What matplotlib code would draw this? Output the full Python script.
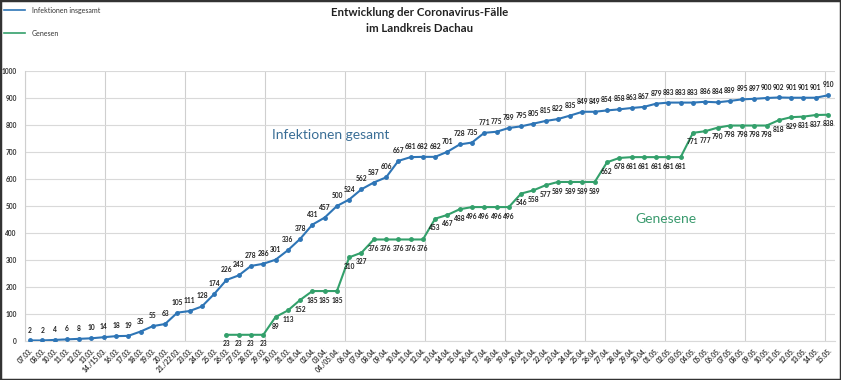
import numpy as np
import matplotlib.pyplot as plt
from matplotlib.patches import Rectangle

plt.rcParams['font.family'] = ['Lato', 'DejaVu Sans']

dates = ['07.03.', '08.03.', '10.03.', '11.03.', '12.03.', '13.03.', '14./15.03.', '16.03.',
         '17.03.', '18.03.', '19.03.', '20.03.', '21./22.03.', '23.03.', '24.03.', '25.03.',
         '26.03.', '27.03.', '28.03.', '29.03.', '30.03.', '31.03.', '01.04.', '02.04.',
         '03.04.', '04./05.04.', '06.04.', '07.04.', '08.04.', '09.04.', '10.04.', '11.04.',
         '12.04.', '13.04.', '14.04.', '15.04.', '16.04.', '17.04.', '18.04.', '19.04.',
         '20.04.', '21.04.', '22.04.', '23.04.', '24.04.', '25.04.', '26.04.', '27.04.',
         '28.04.', '29.04.', '30.04.', '01.05.', '02.05.', '03.05.', '04.05.', '05.05.',
         '06.05.', '07.05.', '08.05.', '09.05.', '10.05.', '11.05.', '12.05.', '13.05.',
         '14.05.', '15.05.']

infektionen = [2, 2, 4, 6, 8, 10, 14, 18, 19, 35, 55, 63, 105, 111, 128, 174, 226, 243, 278, 286,
               301, 336, 378, 431, 457, 500, 524, 562, 587, 606, 667, 681, 682, 682, 701, 728, 735,
               771, 775, 789, 795, 805, 815, 822, 835, 849, 849, 854, 858, 863, 867, 879, 883, 883,
               883, 886, 884, 889, 895, 897, 900, 902, 901, 901, 901, 910]

# Genesen starts on 26.03.
genesen_start = 16
genesen = [23, 23, 23, 23, 89, 113, 152, 185, 185, 185, 310, 327, 376, 376, 376, 376, 376,
           453, 467, 488, 496, 496, 496, 496, 546, 558, 577, 589, 589, 589, 589, 662, 678,
           681, 681, 681, 681, 681, 771, 777, 790, 798, 798, 798, 798, 818, 829, 831, 837, 838]

blue = '#2E75B6'
green = '#33A06B'

fig = plt.figure(figsize=(8.41, 3.8), dpi=100)
ax = fig.add_axes([25 / 841, 39 / 380, 810 / 841, 270 / 380])

x = np.arange(len(dates))
xg = np.arange(genesen_start, genesen_start + len(genesen))

ax.plot(x, infektionen, color=blue, lw=1.5, marker='o', ms=2.5, zorder=3)
ax.plot(xg, genesen, color=green, lw=1.5, marker='o', ms=2.5, zorder=3)

for xi, v in zip(x, infektionen):
    ax.annotate(str(v), (xi, v), xytext=(0, 5), textcoords='offset points',
                ha='center', va='bottom', fontsize=4.8, fontweight='bold', color='#222222')
for xi, v in zip(xg, genesen):
    ax.annotate(str(v), (xi, v), xytext=(0, -4), textcoords='offset points',
                ha='center', va='top', fontsize=4.8, fontweight='bold', color='#222222')

xmin, xmax = -0.41, 65.57
ax.set_xlim(xmin, xmax)
ax.set_ylim(0, 1000)
ax.set_yticks(range(0, 1001, 100))
ax.grid(axis='y', color='#d9d9d9', lw=0.8)
for k in range(0, 11):
    ax.axvline(xmin + k * 80 / 810 * (xmax - xmin), color='#cfcfcf', lw=0.8, zorder=0)

ax.set_xticks(x)
ax.set_xticklabels(dates, rotation=45, ha='right', rotation_mode='anchor',
                   fontsize=4.8, fontweight='bold', color='#333333')
ax.tick_params(axis='x', length=0, pad=4)
ax.tick_params(axis='y', length=0, pad=6, labelsize=4.8, labelcolor='#333333')
for lab in ax.get_yticklabels():
    lab.set_fontweight('bold')
for s in ['top', 'right']:
    ax.spines[s].set_visible(False)
ax.spines['left'].set_color('#cfcfcf')
ax.spines['bottom'].set_color('#d9d9d9')

ax.text(19.7, 762, 'Infektionen gesamt', color='#3A6E96', fontsize=10, ha='left', va='center')
ax.text(49.3, 452, 'Genesene', color='#3A9A6E', fontsize=10, ha='left', va='center')

fig.text(420 / 841, 1 - 13 / 380, 'Entwicklung der Coronavirus-Fälle', ha='center', va='center',
         fontsize=8.3, fontweight='bold', color='#222222')
fig.text(420 / 841, 1 - 28 / 380, 'im Landkreis Dachau', ha='center', va='center',
         fontsize=8.3, fontweight='bold', color='#222222')

# legend at top left
fig.add_artist(plt.Line2D([4 / 841, 25 / 841], [1 - 10 / 380, 1 - 10 / 380], color=blue, lw=1.2))
fig.add_artist(plt.Line2D([4 / 841, 25 / 841], [1 - 33 / 380, 1 - 33 / 380], color=green, lw=1.2))
fig.text(32 / 841, 1 - 10 / 380, 'Infektionen insgesamt', fontsize=5, va='center', color='#333333')
fig.text(32 / 841, 1 - 33 / 380, 'Genesen', fontsize=5, va='center', color='#333333')

fig.add_artist(Rectangle((0, 0), 1, 1, transform=fig.transFigure, fill=False,
                         edgecolor='#333333', lw=2.5))

fig.savefig('out.png', dpi=100)
